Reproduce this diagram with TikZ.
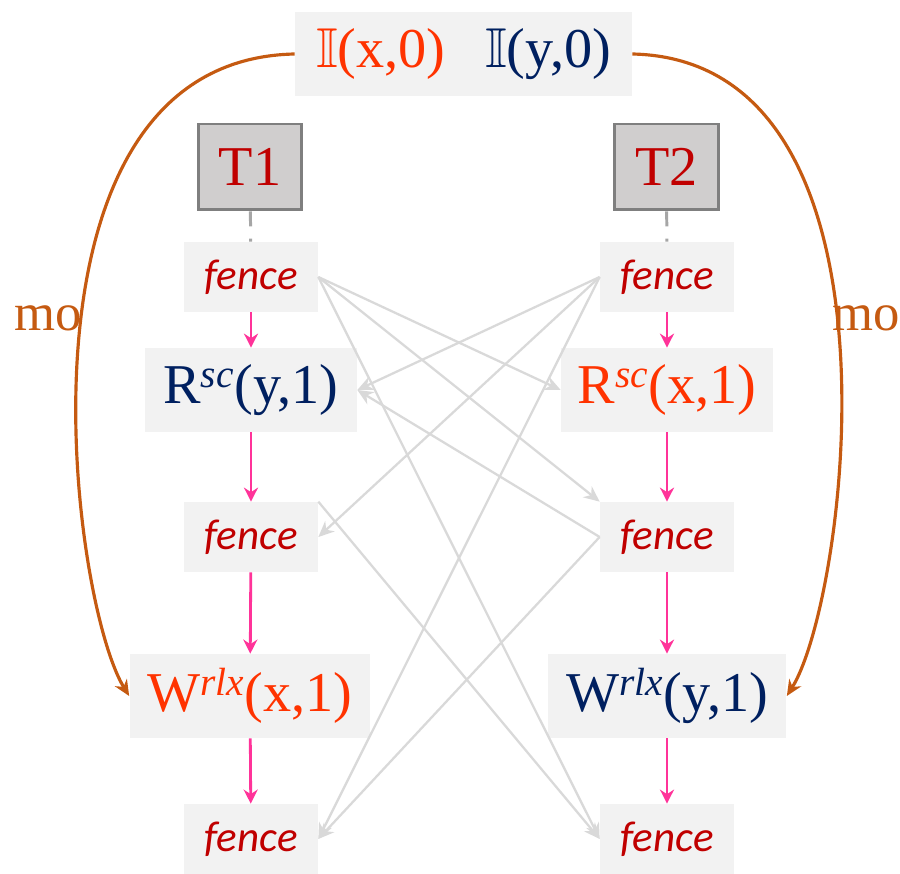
\documentclass[tikz,border=0pt]{standalone}
\usepackage{fontspec}
\usepackage{amssymb}
\setmainfont{Liberation Serif}
\newfontfamily\fencefont{Carlito}
\usetikzlibrary{arrows.meta}
\definecolor{xred}{HTML}{FF3300}
\definecolor{ynavy}{HTML}{002060}
\definecolor{darkred}{HTML}{C00000}
\definecolor{boxfill}{HTML}{F2F2F2}
\definecolor{thrfill}{HTML}{D0CECE}
\definecolor{thrline}{HTML}{7F7F7F}
\definecolor{tickgray}{HTML}{A6A6A6}
\definecolor{popink}{HTML}{FF3399}
\definecolor{edgegray}{HTML}{D9D9D9}
\definecolor{mobrown}{HTML}{C55A11}

\begin{document}
\begin{tikzpicture}[x=0.02cm,y=-0.02cm,
  evt/.style={fill=boxfill,minimum height=1.68cm,inner sep=0pt,font=\fontsize{32}{38}\selectfont},
  fencebox/.style={fill=boxfill,minimum width=2.68cm,minimum height=1.4cm,inner sep=0pt,text=darkred,font=\fencefont\itshape\fontsize{24.5}{29}\selectfont},
  thread/.style={fill=thrfill,draw=thrline,line width=1.7pt,minimum width=2.08cm,minimum height=1.72cm,inner sep=0pt,text=darkred,font=\fontsize{32}{38}\selectfont},
  po/.style={draw=popink,line width=1.6pt,-{Stealth[length=8pt,width=8pt]}},
  sw/.style={draw=edgegray,line width=1.3pt,-{Stealth[length=9pt,width=8pt]}},
  mo/.style={draw=mobrown,line width=1.8pt,-{Stealth[length=9pt,width=8pt]}},
  molabel/.style={text=mobrown,font=\fontsize{30}{36}\selectfont}]
\useasboundingbox (0,0) rectangle (900,874);

\node[evt,minimum width=6.74cm] (init) at (463.5,54) {\textcolor{xred}{$\mathbb{I}$(x,0)}\hspace{0.7em}\textcolor{ynavy}{$\mathbb{I}$(y,0)}};

\node[thread] (t1) at (250,167) {T1};
\node[fencebox] (fa1) at (251,277) {fence};
\node[evt,minimum width=4.24cm,text=ynavy] (rdy) at (251,390) {R\textsuperscript{\textit{sc}}(y,1)};
\node[fencebox] (fa2) at (251,537) {fence};
\node[evt,minimum width=4.82cm,text=xred] (wrx) at (250,696) {W\textsuperscript{\textit{rlx}}(x,1)};
\node[fencebox] (fa3) at (251,839) {fence};

\node[thread] (t2) at (666.5,167) {T2};
\node[fencebox] (fb1) at (667,277) {fence};
\node[evt,minimum width=4.24cm,text=xred] (rdx) at (667,390) {R\textsuperscript{\textit{sc}}(x,1)};
\node[fencebox] (fb2) at (667,537) {fence};
\node[evt,minimum width=4.78cm,text=ynavy] (wry) at (667,696) {W\textsuperscript{\textit{rlx}}(y,1)};
\node[fencebox] (fb3) at (667,839) {fence};

\draw[draw=tickgray,line width=1.7pt,dash pattern=on 8.5pt off 7pt] (t1) -- (fa1);
\draw[draw=tickgray,line width=1.7pt,dash pattern=on 8.5pt off 7pt] (t2) -- (fb1);

\draw[sw] (fa1.east) -- (rdx.west);
\draw[sw] (fa1.east) -- (fb2.north west);
\draw[sw] (fa1.east) -- (fb3.west);
\draw[sw] (fa2.north east) -- (fb3.west);
\draw[sw] (fb1.west) -- (rdy.east);
\draw[sw] (fb1.west) -- (fa2.east);
\draw[sw] (fb1.west) -- (fa3.east);
\draw[sw] (fb2.west) -- (rdy.east);
\draw[sw] (fb2.west) -- (fa3.east);

\draw[po] (fa1) -- (rdy);
\draw[po] (rdy) -- (fa2);
\draw[po] (fa2) -- (wrx);
\draw[po] (wrx) -- (fa3);
\draw[po] (fb1) -- (rdx);
\draw[po] (rdx) -- (fb2);
\draw[po] (fb2) -- (wry);
\draw[po] (wry) -- (fb3);

\draw[mo] (init.west) .. controls (0,60) and (70,600) .. (wrx.west);
\draw[mo] (init.east) .. controls (917,60) and (847,600) .. (wry.east);
\node[molabel] (mol) at (48,318) {mo};
\node[molabel] (mor) at (866,318) {mo};
\end{tikzpicture}
\end{document}
